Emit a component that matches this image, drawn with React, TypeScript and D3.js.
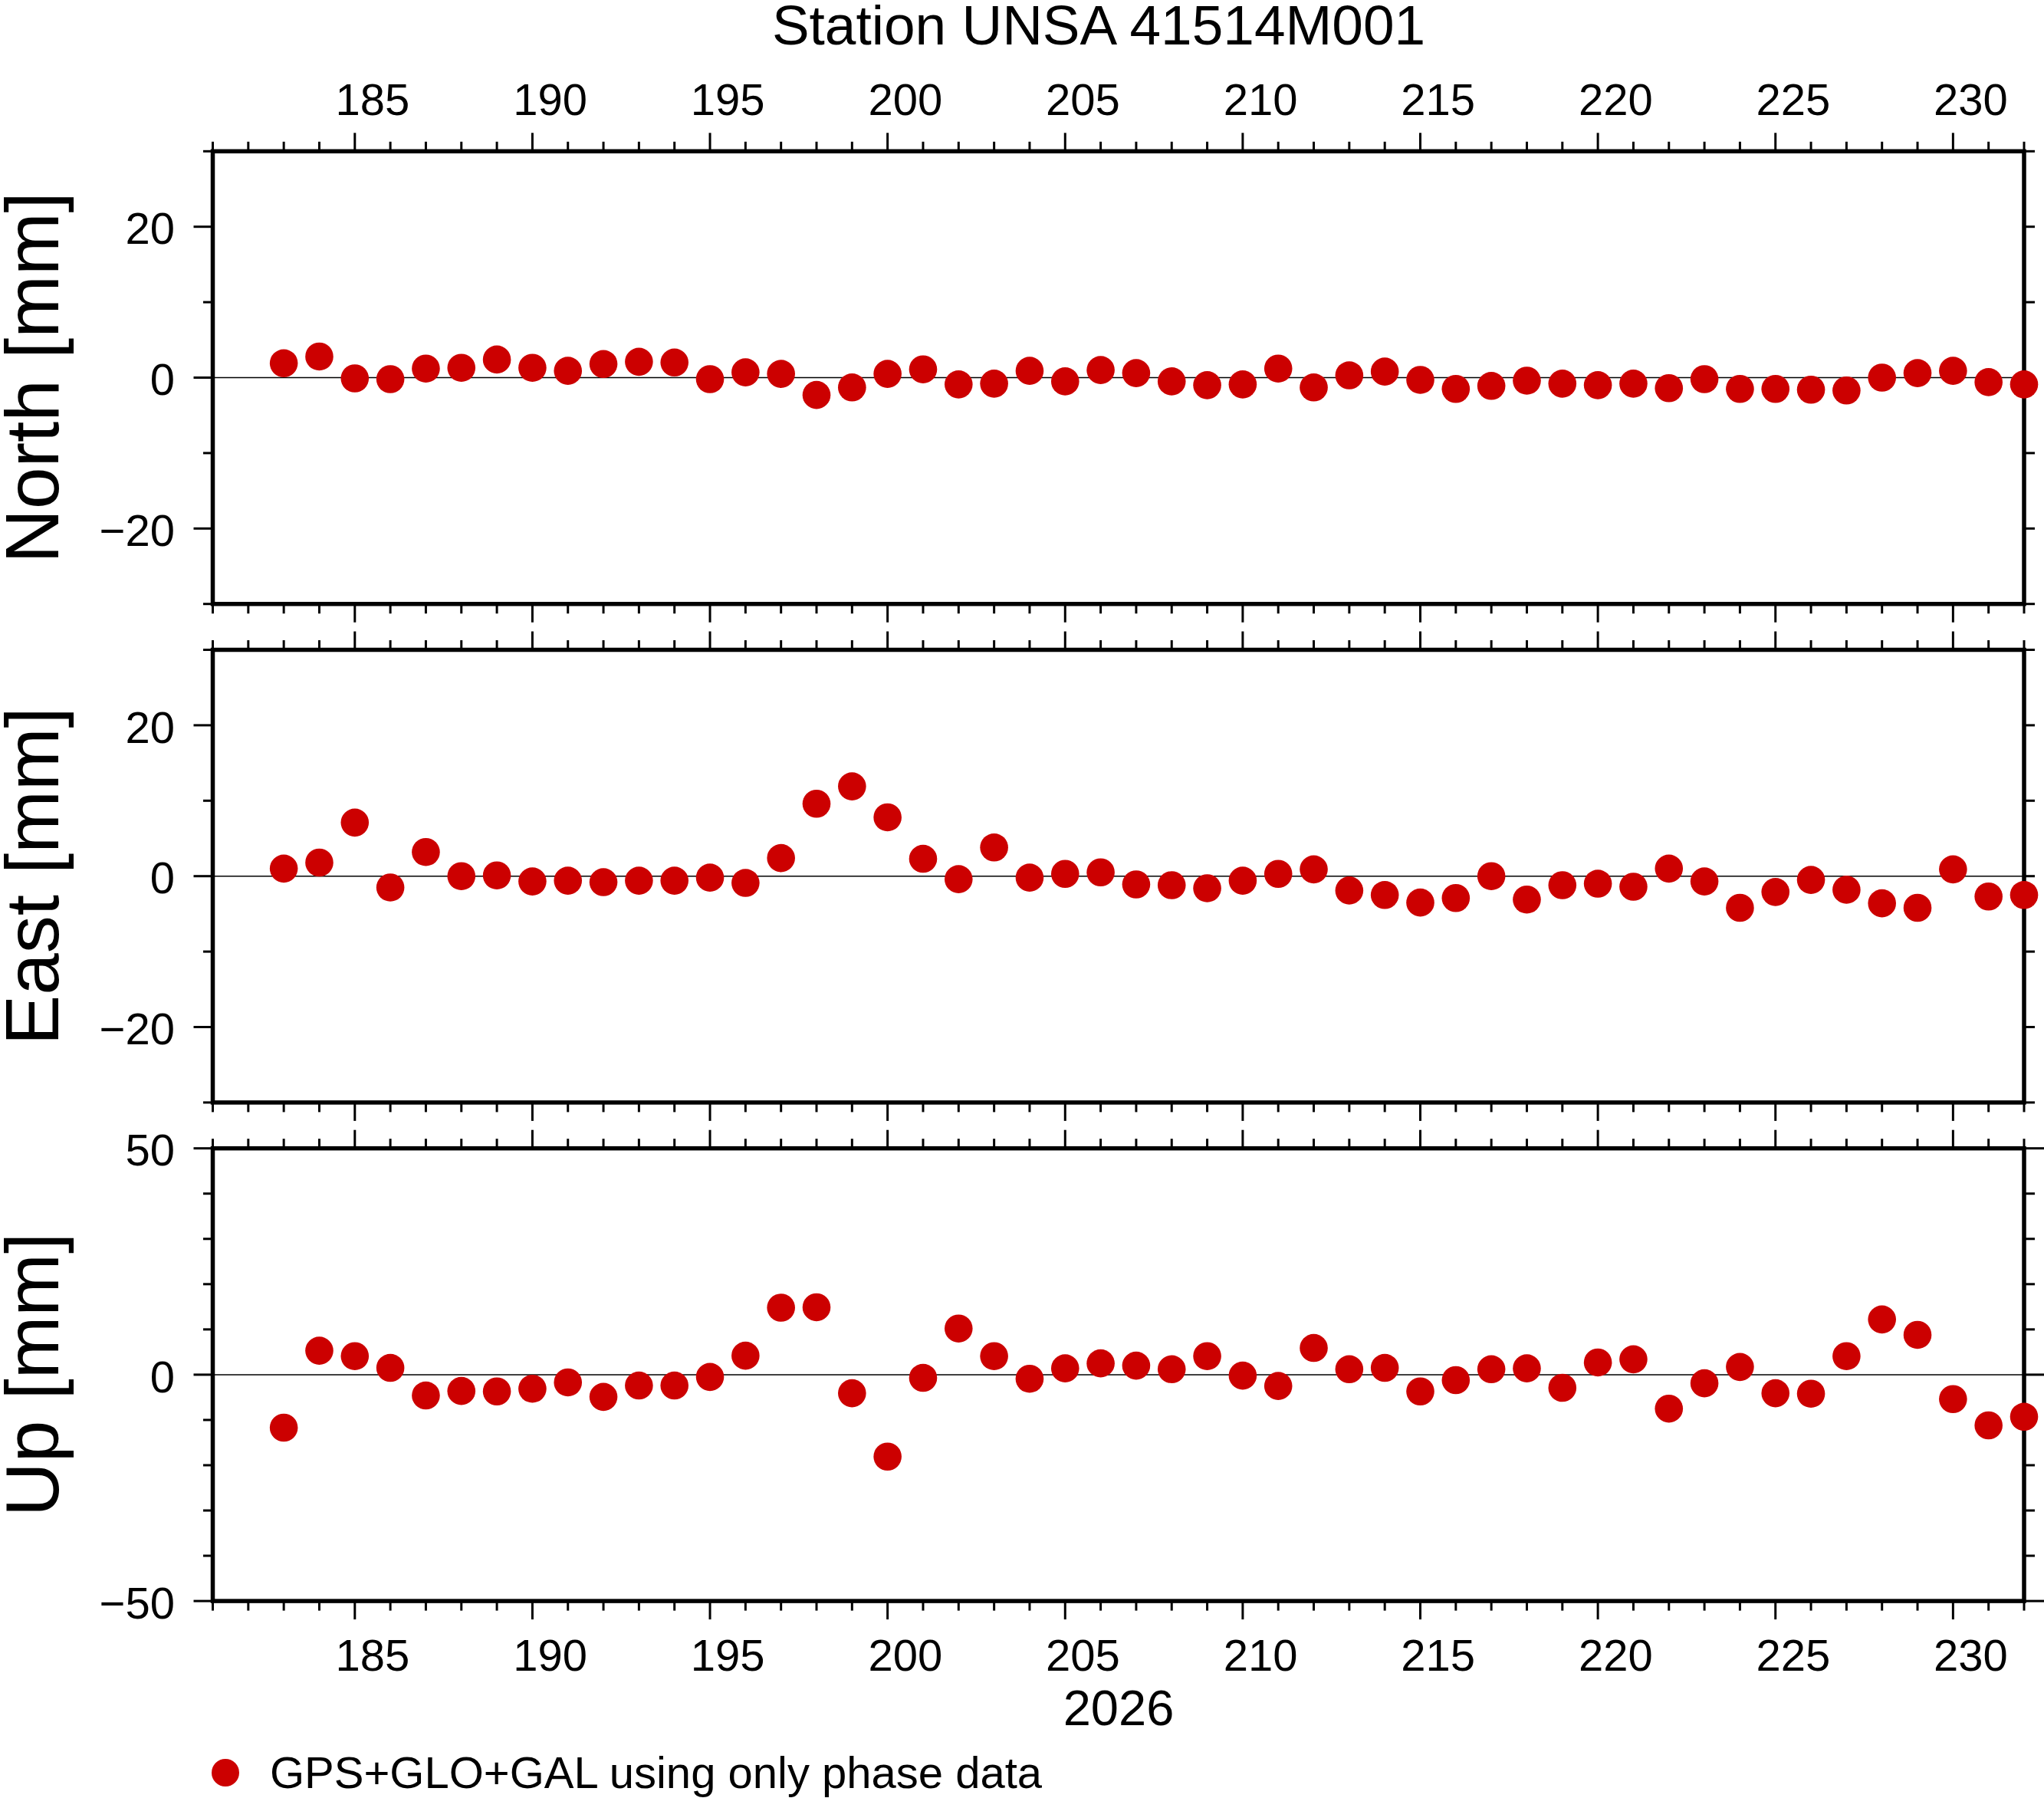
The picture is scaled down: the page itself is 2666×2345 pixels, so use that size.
import React from "react";
import * as d3 from "d3";

const days = [183,184,185,186,187,188,189,190,191,192,193,194,195,196,197,198,199,200,201,202,203,204,205,206,207,208,209,210,211,212,213,214,215,216,217,218,219,220,221,222,223,224,225,226,227,228,229,230,231,232];

const north = [1.9,2.8,-0.1,-0.2,1.2,1.3,2.4,1.3,0.9,1.8,2.1,2.0,-0.2,0.7,0.5,-2.3,-1.3,0.5,1.1,-0.9,-0.8,0.9,-0.5,1.0,0.6,-0.5,-1.0,-0.9,1.2,-1.3,0.3,0.8,-0.3,-1.5,-1.1,-0.4,-0.8,-1.0,-0.8,-1.4,-0.2,-1.5,-1.5,-1.6,-1.7,0.0,0.6,0.9,-0.6,-0.9];
const east = [1.0,1.8,7.1,-1.5,3.2,0.0,0.1,-0.7,-0.6,-0.8,-0.6,-0.6,-0.2,-0.9,2.4,9.6,11.9,7.8,2.3,-0.4,3.8,-0.2,0.3,0.5,-1.1,-1.2,-1.6,-0.6,0.3,0.9,-1.9,-2.5,-3.5,-2.9,0.0,-3.1,-1.2,-1.0,-1.4,1.0,-0.7,-4.2,-2.1,-0.5,-1.8,-3.6,-4.2,0.9,-2.7,-2.5];
const up = [-11.7,5.3,4.1,1.5,-4.6,-3.6,-3.7,-3.1,-1.7,-4.9,-2.4,-2.4,-0.5,4.2,14.8,14.9,-4.1,-18.1,-0.7,10.2,4.1,-0.9,1.4,2.5,2.0,1.2,4.1,-0.2,-2.5,5.9,1.2,1.5,-3.7,-1.2,1.2,1.4,-2.9,2.7,3.4,-7.5,-1.9,1.7,-4.1,-4.2,4.1,12.2,8.8,-5.4,-11.2,-9.3];

const panelNames = ["North [mm]", "East [mm]", "Up [mm]"];
const panelDomains: [number, number][] = [[-30, 30], [-30, 30], [-50, 50]];
const panelAnnot = [20, 20, 50];
const panelMinor = [10, 10, 10];
const xDomain: [number, number] = [181, 232];
const xAnnotStep = 5;
const title = "Station UNSA 41514M001";
const xAxisTitle = "2026";
const legendLabel = "GPS+GLO+GAL using only phase data";

const W = 2666;
const H = 2345;
const LEFT = 277.5;
const RIGHT = 2640;
const TOP0 = 197.3;
const PH = 590.4;
const PSTEP = 650.2;
const RED = "#cc0000";
const FONT = "'Liberation Sans', Arial, Helvetica, sans-serif";

const fmt = (v: number) => (v < 0 ? "\u2212" + Math.abs(v) : String(v));

function Panel({ idx, values }: { idx: number; values: number[] }) {
  const top = TOP0 + idx * PSTEP;
  const bottom = top + PH;
  const x = d3.scaleLinear().domain(xDomain).range([LEFT, RIGHT]);
  const y = d3.scaleLinear().domain(panelDomains[idx]).range([bottom, top]);
  const [ymin, ymax] = panelDomains[idx];
  const yT = d3.range(ymin, ymax + 0.001, panelMinor[idx]);
  const xT = d3.range(xDomain[0], xDomain[1] + 0.001, 1);
  const isMajorX = (d: number) => d % xAnnotStep === 0;
  const isMajorY = (v: number) => Math.abs(v % panelAnnot[idx]) < 1e-9;
  const labelDays = xT.filter((d) => isMajorX(d));
  const cy = (top + bottom) / 2;
  return (
    <g>
      <line x1={LEFT} x2={RIGHT} y1={y(0)} y2={y(0)} stroke="#000" strokeWidth={1.5} />
      {yT.map((v) => (
        <g key={"y" + v}>
          <line x1={LEFT} x2={LEFT - (isMajorY(v) ? 25 : 12.5)} y1={y(v)} y2={y(v)} stroke="#000" strokeWidth={3} />
          <line x1={RIGHT} x2={RIGHT + (idx === 2 && isMajorY(v) ? 26 : 14)} y1={y(v)} y2={y(v)} stroke="#000" strokeWidth={3} />
        </g>
      ))}
      {yT.filter(isMajorY).map((v) => (
        <text key={"yl" + v} x={228} y={y(v)} dy="0.39em" textAnchor="end" fontSize={58} fontFamily={FONT}>
          {fmt(v)}
        </text>
      ))}
      {xT.map((d) => (
        <g key={"x" + d}>
          <line x1={x(d)} x2={x(d)} y1={top} y2={top - (isMajorX(d) ? 24 : 12.5)} stroke="#000" strokeWidth={3} />
          <line x1={x(d)} x2={x(d)} y1={bottom} y2={bottom + (isMajorX(d) ? 24 : 12.5)} stroke="#000" strokeWidth={3} />
        </g>
      ))}
      {idx === 0 &&
        labelDays.map((d) => (
          <text key={"xt" + d} x={x(d + 0.5)} y={top - 47} textAnchor="middle" fontSize={58} fontFamily={FONT}>
            {d}
          </text>
        ))}
      {idx === 2 &&
        labelDays.map((d) => (
          <text key={"xb" + d} x={x(d + 0.5)} y={bottom + 90.5} textAnchor="middle" fontSize={58} fontFamily={FONT}>
            {d}
          </text>
        ))}
      <rect x={LEFT} y={top} width={RIGHT - LEFT} height={PH} fill="none" stroke="#000" strokeWidth={5.5} />
      <text
        transform={`translate(76,${cy}) rotate(-90)`}
        textAnchor="middle"
        fontSize={98}
        fontFamily={FONT}
      >
        {panelNames[idx]}
      </text>
      {values.map((v, i) => (
        <circle key={"p" + i} cx={x(days[i])} cy={y(v)} r={18.3} fill={RED} />
      ))}
    </g>
  );
}

export default function App() {
  const series = [north, east, up];
  return (
    <svg
      width={W}
      height={H}
      viewBox={`0 0 ${W} ${H}`}
      style={{ position: "absolute", left: 0, top: 0, background: "#fff", display: "block" }}
    >
      <rect x={0} y={0} width={W} height={H} fill="#fff" />
      <text x={1433} y={58} textAnchor="middle" fontSize={73} fontFamily={FONT}>
        {title}
      </text>
      {series.map((s, i) => (
        <Panel key={i} idx={i} values={s} />
      ))}
      <text x={1459} y={2250} textAnchor="middle" fontSize={65} fontFamily={FONT}>
        {xAxisTitle}
      </text>
      <circle cx={294} cy={2312} r={18} fill={RED} />
      <text x={352} y={2332} fontSize={58} fontFamily={FONT}>
        {legendLabel}
      </text>
    </svg>
  );
}
